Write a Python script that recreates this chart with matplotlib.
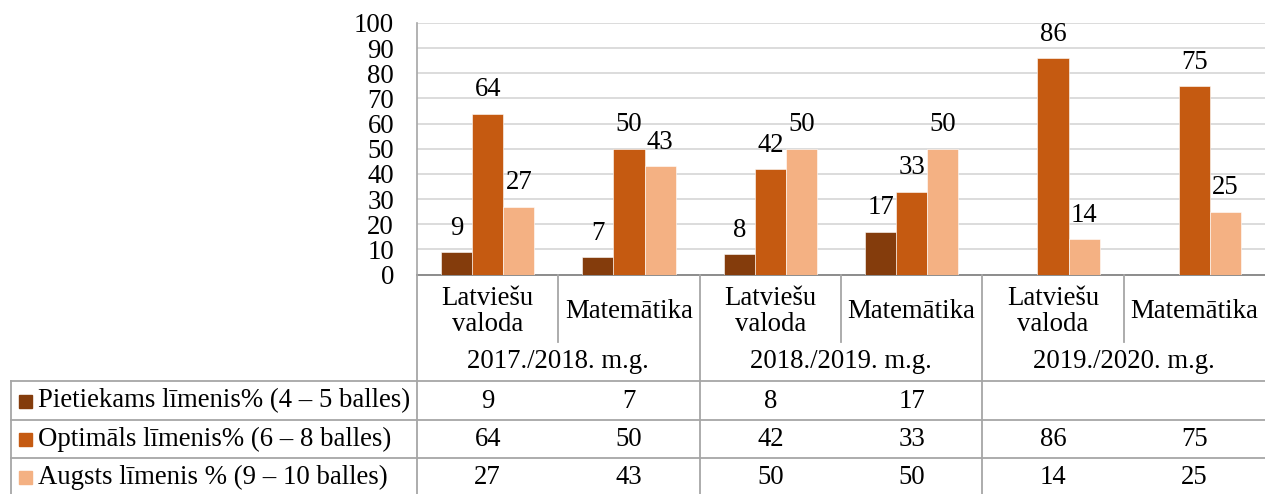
import numpy as np
import matplotlib
matplotlib.use("Agg")
import matplotlib.pyplot as plt

# ---- data ----
subjects = ["Latviešu\nvaloda", "Matemātika", "Latviešu\nvaloda", "Matemātika", "Latviešu\nvaloda", "Matemātika"]
years = ["2017./2018. m.g.", "2018./2019. m.g.", "2019./2020. m.g."]
series_names = ["Pietiekams līmenis% (4 – 5 balles)",
                "Optimāls līmenis% (6 – 8 balles)",
                "Augsts līmenis % (9 – 10 balles)"]
pietiekams = [9, 7, 8, 17, np.nan, np.nan]
optimals = [64, 50, 42, 33, 86, 75]
augsts = [27, 43, 50, 50, 14, 25]
yticks = [0, 10, 20, 30, 40, 50, 60, 70, 80, 90, 100]

colors = ["#843C0C", "#C55A11", "#F4B183"]
series = [pietiekams, optimals, augsts]

W, H = 1265, 494
FONT = "Liberation Serif"
FS = 19.3
plt.rcParams['font.family'] = [FONT, 'DejaVu Serif']

fig = plt.figure(figsize=(W / 100, H / 100), dpi=100)

# pixel layout
x_left, x_right = 417, 1265
y_top, y_zero = 23, 274.5
ax = fig.add_axes([x_left / W, 1 - y_zero / H, (x_right - x_left) / W, (y_zero - y_top) / H])

n = len(subjects)
x = np.arange(n)
bw = 0.22
offs = [-bw, 0, bw]
for vals, c, o in zip(series, colors, offs):
    v = np.array(vals, dtype=float)
    ax.bar(x + o, v, width=bw, color=c, edgecolor="white", linewidth=0.4, zorder=3)
    for xi, vi in zip(x, v):
        if not np.isnan(vi):
            ax.annotate(f"{vi:g}", (xi + o, vi), xytext=(0, 12.5), textcoords="offset points",
                        ha="center", va="baseline", fontsize=FS, family=FONT, color="black")

ax.set_xlim(-0.5, n - 0.5)
ax.set_ylim(0, 100)
ax.set_yticks(yticks)
ax.set_yticklabels([str(t) for t in yticks], fontsize=FS, family=FONT)
ax.tick_params(axis="y", length=0, pad=16.5)
ax.set_xticks([])
ax.grid(axis="y", color="#D9D9D9", linewidth=1.3, zorder=0)
for s in ["top", "right"]:
    ax.spines[s].set_visible(False)
ax.spines["left"].set_color("#A6A6A6")
ax.spines["left"].set_linewidth(1.2)
ax.spines["bottom"].set_color("#8C8C8C")
ax.spines["bottom"].set_linewidth(1.4)
ax.set_facecolor("none")

# ---- data table (drawn in pixel space) ----
ov = fig.add_axes([0, 0, 1, 1])
ov.set_xlim(0, W)
ov.set_ylim(H, 0)
ov.axis("off")
ov.patch.set_alpha(0)

colw = (x_right - x_left) / n
lc = "#A6A6A6"
lw = 1.3
row_lines = [381, 419.5, 458, 494]
row_centers = [401, 439.5, 477.5]

# vertical lines
for i in range(n):
    xx = x_left + i * colw
    if i % 2 == 0:
        ov.plot([xx, xx], [y_zero, H], color=lc, lw=lw)
    else:
        ov.plot([xx, xx], [y_zero, 342], color=lc, lw=lw)
ov.plot([11, 11], [row_lines[0], H], color=lc, lw=lw)
for yy in row_lines[:3]:
    ov.plot([11, W], [yy, yy], color=lc, lw=lw)

# subject labels
for i, s in enumerate(subjects):
    cx = x_left + (i + 0.5) * colw
    ov.text(cx, 311.5, s, ha="center", va="center", fontsize=FS, family=FONT, linespacing=1.07)
# year labels
for j, yname in enumerate(years):
    cx = x_left + (2 * j + 1) * colw
    ov.text(cx, 361, yname, ha="center", va="center", fontsize=FS, family=FONT)

# rows
for r, (name, vals, c) in enumerate(zip(series_names, series, colors)):
    cy = row_centers[r]
    ov.add_patch(plt.Rectangle((19, cy - 6.5), 13, 13, color=c))
    ov.text(38, cy, name, ha="left", va="center", fontsize=FS, family=FONT)
    for i, v in enumerate(vals):
        if not np.isnan(v):
            cx = x_left + (i + 0.5) * colw
            ov.text(cx, cy, f"{v:g}", ha="center", va="center", fontsize=FS, family=FONT)

fig.savefig("out.png", dpi=100)
